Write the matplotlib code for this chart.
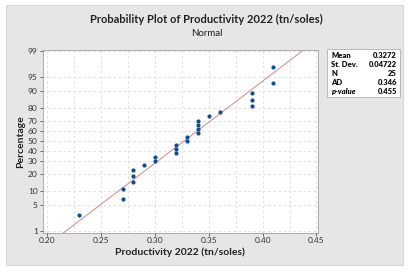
import numpy as np
import matplotlib.pyplot as plt
from matplotlib.patches import Rectangle
from statistics import NormalDist

plt.rcParams['font.family'] = ['Lato', 'DejaVu Sans']

# sorted productivity values (tn/soles), N = 25
productivity = [0.23, 0.27, 0.27, 0.28, 0.28, 0.28, 0.29, 0.30, 0.30,
                0.32, 0.32, 0.32, 0.33, 0.33, 0.34, 0.34, 0.34, 0.34,
                0.35, 0.36, 0.39, 0.39, 0.39, 0.41, 0.41]
pct_ticks = [1, 5, 10, 20, 30, 40, 50, 60, 70, 80, 90, 95, 99]
x_ticks = [0.20, 0.25, 0.30, 0.35, 0.40, 0.45]
stat_names = ["Mean", "St. Dev.", "N", "AD", "p-value"]
stat_values = ["0.3272", "0.04722", "25", "0.346", "0.455"]
mean, sd = 0.3272, 0.04722

nd = NormalDist()
n = len(productivity)
ranks = np.arange(1, n + 1)
pct = (ranks - 0.3) / (n + 0.4)  # median ranks
z_pts = [nd.inv_cdf(p) for p in pct]

fig = plt.figure(figsize=(4.09, 2.73), dpi=100)
fig.patches.append(Rectangle((6 / 409, 8 / 273), 397 / 409, 260 / 273,
                             transform=fig.transFigure, facecolor='#e6e6e6',
                             edgecolor='#d8d8d8', lw=0.8, zorder=-10))

ax = fig.add_axes([0.104, 0.148, 0.674, 0.669])
ax.set_facecolor('white')

# fitted normal line
z_line = np.linspace(-3, 3, 50)
ax.plot(mean + sd * z_line, z_line, color='#d98585', lw=0.7, zorder=2)
ax.scatter(productivity, z_pts, s=9, color='#0a4f9e', zorder=3, linewidths=0)

ax.set_xlim(0.1957, 0.4516)
ax.set_ylim(nd.inv_cdf(0.01) - 0.04, nd.inv_cdf(0.99) + 0.02)
ax.set_yticks([nd.inv_cdf(p / 100) for p in pct_ticks])
ax.set_yticklabels([str(p) for p in pct_ticks])
ax.set_xticks(x_ticks)
ax.set_xticklabels([f"{t:.2f}" for t in x_ticks])
ax.set_xticks(np.arange(0.2, 0.451, 0.025), minor=True)
ax.grid(True, which='both', axis='x', ls=(0, (3, 3)), color='#dcdcdc', lw=0.6)
ax.grid(True, which='major', axis='y', ls=(0, (3, 3)), color='#dcdcdc', lw=0.6)
ax.tick_params(axis='both', which='major', labelsize=6, length=2, width=0.5,
               colors='#333333', pad=1.5)
ax.tick_params(axis='x', which='minor', length=0)
for s in ax.spines.values():
    s.set_color('#a0a0a0')
    s.set_linewidth(0.6)

ax.set_xlabel("Productivity 2022 (tn/soles)", fontsize=7.5, fontweight='bold',
              color='#222222', labelpad=2)
ax.set_ylabel("Percentage", fontsize=7.5, fontweight='bold', color='#222222',
              labelpad=2)

fig.text(0.505, 0.928, "Probability Plot of Productivity 2022 (tn/soles)",
         ha='center', va='center', fontsize=8, fontweight='bold', color='#222222')
fig.text(0.505, 0.876, "Normal", ha='center', va='center', fontsize=7,
         color='#222222')

# stats box
fig.patches.append(Rectangle((327 / 409, 1 - 97 / 273), 73 / 409, 48 / 273,
                             transform=fig.transFigure, facecolor='white',
                             edgecolor='#b0b0b0', lw=0.6, zorder=1))
for i, (name, val) in enumerate(zip(stat_names, stat_values)):
    y = 1 - (55 + i * 9.2) / 273
    fig.text(331 / 409, y, name, fontsize=5.5, fontweight='heavy',
             style='italic' if i == 4 else 'normal', va='center', color='#111111')
    fig.text(397 / 409, y, val, fontsize=5.5, fontweight='heavy', ha='right',
             va='center', color='#111111')

fig.savefig("out.png", dpi=100)
